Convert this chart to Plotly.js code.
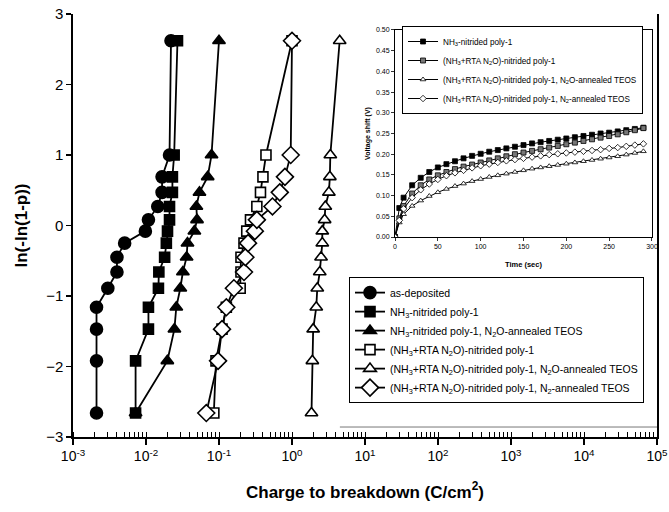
<!DOCTYPE html>
<html>
<head>
<meta charset="utf-8">
<script src="https://cdn.plot.ly/plotly-3.0.1.min.js"></script>
<style>html,body{margin:0;padding:0;background:#fff;}#chart{width:669px;height:512px;}</style>
</head>
<body>
<div id="chart"></div>
<script>
// ---- Main Weibull plot data ----
const weibullY = [-2.66, -1.92, -1.47, -1.16, -0.89, -0.66, -0.45, -0.25, -0.08, 0.08, 0.27, 0.47, 0.69, 1.0, 2.62];
const asDeposited = [0.0021, 0.0021, 0.0021, 0.0021, 0.0030, 0.0040, 0.0040, 0.0051, 0.0098, 0.0108, 0.0145, 0.0166, 0.0166, 0.021, 0.022];
const nh3Poly = [0.0072, 0.0072, 0.0108, 0.0108, 0.0148, 0.0150, 0.018, 0.019, 0.0197, 0.021, 0.021, 0.023, 0.023, 0.0243, 0.027];
const nh3PolyN2O = [0.0072, 0.0196, 0.0245, 0.026, 0.0295, 0.032, 0.036, 0.037, 0.046, 0.050, 0.049, 0.054, 0.070, 0.079, 0.10];
const rtaPoly = [0.085, 0.091, 0.11, 0.126, 0.195, 0.20, 0.20, 0.22, 0.24, 0.27, 0.33, 0.37, 0.40, 0.44, 1.0];
const rtaPolyN2O = [1.85, 1.9, 1.95, 2.15, 2.22, 2.4, 2.5, 2.6, 2.6, 2.8, 2.86, 3.2, 3.3, 3.35, 4.5];
const rtaPolyN2 = [0.067, 0.097, 0.11, 0.126, 0.16, 0.22, 0.23, 0.25, 0.31, 0.33, 0.54, 0.68, 0.80, 0.96, 1.0];

const mainNames = [
  'as-deposited',
  'NH<sub>3</sub>-nitrided poly-1',
  'NH<sub>3</sub>-nitrided poly-1, N<sub>2</sub>O-annealed TEOS',
  '(NH<sub>3</sub>+RTA N<sub>2</sub>O)-nitrided poly-1',
  '(NH<sub>3</sub>+RTA N<sub>2</sub>O)-nitrided poly-1, N<sub>2</sub>O-annealed TEOS',
  '(NH<sub>3</sub>+RTA N<sub>2</sub>O)-nitrided poly-1, N<sub>2</sub>-annealed TEOS'
];
const xTickVals = [1e-3, 1e-2, 1e-1, 1e0, 1e1, 1e2, 1e3, 1e4, 1e5];
const xTickText = ['10<sup>-3</sup>', '10<sup>-2</sup>', '10<sup>-1</sup>', '10<sup>0</sup>', '10<sup>1</sup>',
                   '10<sup>2</sup>', '10<sup>3</sup>', '10<sup>4</sup>', '10<sup>5</sup>'];
const yTickVals = [-3, -2, -1, 0, 1, 2, 3];

// ---- Inset data: voltage shift vs time ----
const insetTime = [0, 5, 10, 20, 30, 40, 50, 60, 70, 80, 90, 100, 110, 120, 130, 140, 150, 160, 170, 180, 190, 200, 210, 220, 230, 240, 250, 260, 270, 280, 290];
const vsNh3 = [0, 0.070, 0.095, 0.125, 0.143, 0.157, 0.168, 0.176, 0.183, 0.190, 0.196, 0.201, 0.206, 0.210, 0.214, 0.218, 0.222, 0.226, 0.229, 0.232, 0.235, 0.238, 0.241, 0.244, 0.247, 0.250, 0.252, 0.255, 0.258, 0.261, 0.264];
const vsRta = [0, 0.045, 0.075, 0.105, 0.125, 0.139, 0.149, 0.157, 0.164, 0.170, 0.175, 0.180, 0.185, 0.190, 0.195, 0.200, 0.204, 0.208, 0.212, 0.216, 0.220, 0.224, 0.228, 0.232, 0.236, 0.240, 0.244, 0.248, 0.253, 0.258, 0.263];
const vsRtaN2O = [0, 0.035, 0.055, 0.075, 0.088, 0.099, 0.108, 0.116, 0.123, 0.129, 0.135, 0.140, 0.145, 0.149, 0.153, 0.157, 0.161, 0.165, 0.168, 0.171, 0.174, 0.177, 0.180, 0.183, 0.186, 0.189, 0.192, 0.195, 0.199, 0.203, 0.207];
const vsRtaN2 = [0, 0.040, 0.068, 0.095, 0.114, 0.128, 0.139, 0.148, 0.155, 0.161, 0.167, 0.172, 0.176, 0.180, 0.184, 0.187, 0.190, 0.193, 0.196, 0.199, 0.201, 0.203, 0.205, 0.207, 0.209, 0.211, 0.214, 0.216, 0.219, 0.222, 0.225];
const insetNames = [
  'NH<sub>3</sub>-nitrided poly-1',
  '(NH<sub>3</sub>+RTA N<sub>2</sub>O)-nitrided poly-1',
  '(NH<sub>3</sub>+RTA N<sub>2</sub>O)-nitrided poly-1, N<sub>2</sub>O-annealed TEOS',
  '(NH<sub>3</sub>+RTA N<sub>2</sub>O)-nitrided poly-1, N<sub>2</sub>-annealed TEOS'
];
const insetXTicks = [0, 50, 100, 150, 200, 250, 300];
const insetYTicks = [0, 0.05, 0.10, 0.15, 0.20, 0.25, 0.30, 0.35, 0.40, 0.45, 0.50];

const FONT = 'Liberation Sans, Arial, Helvetica, sans-serif';

function mainTrace(x, name, symbol, filled, size) {
  return {
    x: x, y: weibullY, name: name, type: 'scatter', mode: 'lines+markers',
    xaxis: 'x', yaxis: 'y', legend: 'legend',
    line: {color: 'black', width: 1.8},
    marker: {symbol: symbol, size: size, color: filled ? 'black' : 'white',
             line: {color: 'black', width: 1.6}}
  };
}
function insetTrace(y, name, symbol, fill) {
  return {
    x: insetTime, y: y, name: name, type: 'scatter', mode: 'lines+markers',
    xaxis: 'x2', yaxis: 'y2', legend: 'legend2',
    line: {color: 'black', width: 1},
    marker: {symbol: symbol, size: 5, color: fill, line: {color: 'black', width: 0.8}}
  };
}

const traces = [
  mainTrace(asDeposited, mainNames[0], 'circle', true, 12),
  mainTrace(nh3Poly, mainNames[1], 'square', true, 10),
  mainTrace(nh3PolyN2O, mainNames[2], 'triangle-up', true, 11),
  mainTrace(rtaPoly, mainNames[3], 'square', false, 10),
  mainTrace(rtaPolyN2O, mainNames[4], 'triangle-up', false, 11),
  mainTrace(rtaPolyN2, mainNames[5], 'diamond', false, 13),
  insetTrace(vsNh3, insetNames[0], 'square', 'black'),
  insetTrace(vsRta, insetNames[1], 'square', '#777'),
  insetTrace(vsRtaN2O, insetNames[2], 'triangle-up', 'white'),
  insetTrace(vsRtaN2, insetNames[3], 'diamond', 'white')
];

const layout = {
  width: 669, height: 512,
  margin: {l: 73, r: 12, t: 14, b: 75},
  paper_bgcolor: 'white', plot_bgcolor: 'rgba(0,0,0,0)',
  font: {family: FONT, color: 'black'},
  showlegend: true,
  xaxis: {
    type: 'log', range: [-3, 5], domain: [0, 1],
    tickmode: 'array', tickvals: xTickVals, ticktext: xTickText,
    ticks: 'outside', ticklen: 6, tickwidth: 1.3, tickcolor: 'black',
    minor: {ticks: 'inside', ticklen: 5, tickwidth: 1, tickcolor: 'black', dtick: 'D1', showgrid: false},
    showline: true, linecolor: 'black', linewidth: 1.6, mirror: false,
    showgrid: false, zeroline: false,
    tickfont: {size: 14, family: FONT},
    title: {text: '<b>Charge to breakdown (C/cm<sup>2</sup>)</b>', font: {size: 17, family: FONT}, standoff: 22}
  },
  yaxis: {
    range: [-3, 3], domain: [0, 1],
    tickmode: 'array', tickvals: yTickVals,
    ticks: 'outside', ticklen: 5, tickwidth: 1.3, tickcolor: 'black',
    showline: true, linecolor: 'black', linewidth: 1.6, mirror: true,
    showgrid: false, zeroline: false,
    tickfont: {size: 15, family: FONT},
    title: {text: '<b>ln(-ln(1-p))</b>', font: {size: 17, family: FONT}, standoff: 14}
  },
  xaxis2: {
    anchor: 'y2', domain: [0.5514, 0.9914], range: [0, 300],
    tickmode: 'array', tickvals: insetXTicks,
    ticks: 'outside', ticklen: 3, tickcolor: 'black', tickwidth: 0.8,
    showline: true, linecolor: 'black', linewidth: 1, mirror: true,
    showgrid: false, zeroline: false,
    tickfont: {size: 7, family: FONT},
    title: {text: '<b>Time (sec)</b>', font: {size: 7.5, family: FONT}, standoff: 12}
  },
  yaxis2: {
    anchor: 'x2', domain: [0.4728, 0.9622], range: [0, 0.5],
    tickmode: 'array', tickvals: insetYTicks, tickformat: '.2f',
    ticks: 'outside', ticklen: 3, tickcolor: 'black', tickwidth: 0.8,
    showline: true, linecolor: 'black', linewidth: 1, mirror: true,
    showgrid: false, zeroline: false,
    tickfont: {size: 7, family: FONT},
    title: {text: '<b>Voltage shift (V)</b>', font: {size: 7, family: FONT}, standoff: 4}
  },
  legend: {
    x: 0.4726, y: 0.378, xanchor: 'left', yanchor: 'top',
    bgcolor: 'white', bordercolor: 'black', borderwidth: 1,
    font: {size: 10.5, family: FONT}, tracegroupgap: 0
  },
  legend2: {
    x: 0.5634, y: 0.9716, xanchor: 'left', yanchor: 'top',
    bgcolor: 'white', bordercolor: 'black', borderwidth: 1,
    font: {size: 8.2, family: FONT}, tracegroupgap: 0
  },
  shapes: [
    {type: 'line', xref: 'paper', yref: 'paper', x0: 0.457, x1: 1.0, y0: 0.0236, y1: 0.0236,
     line: {color: '#555', width: 0.8}}
  ]
};

Plotly.newPlot('chart', traces, layout, {staticPlot: true, displayModeBar: false});
</script>
</body>
</html>
